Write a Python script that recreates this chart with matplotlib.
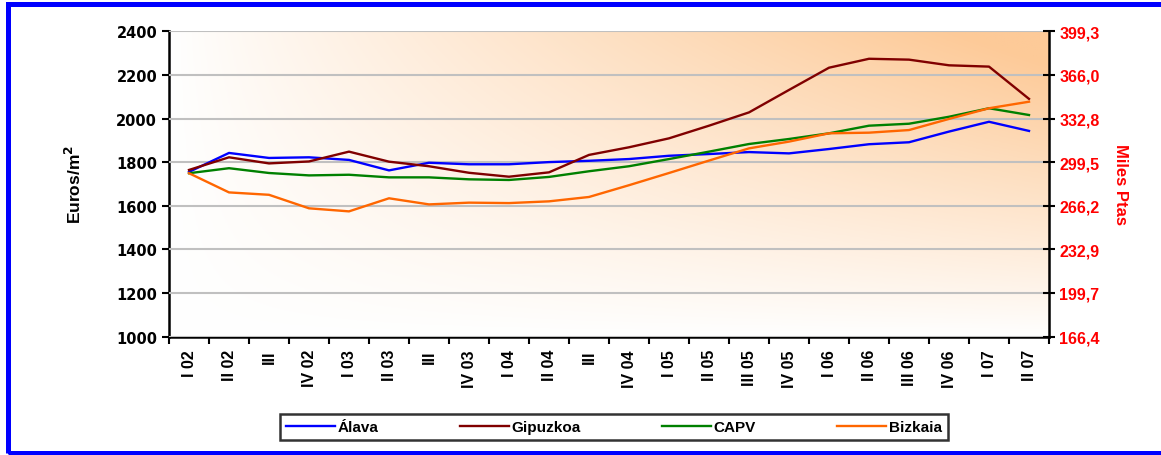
import numpy as np
import matplotlib.pyplot as plt
from matplotlib.ticker import FuncFormatter, FixedLocator
from matplotlib.patches import Rectangle

plt.rcParams['font.family'] = ['Liberation Sans', 'DejaVu Sans']
plt.rcParams['font.weight'] = 'bold'

quarters = ['I 02', 'II 02', 'III', 'IV 02', 'I 03', 'II 03', 'III', 'IV 03',
            'I 04', 'II 04', 'III', 'IV 04', 'I 05', 'II 05', 'III 05', 'IV 05',
            'I 06', 'II 06', 'III 06', 'IV 06', 'I 07', 'II 07']

alava = [1755, 1842, 1819, 1822, 1810, 1762, 1797, 1790, 1790, 1800, 1806,
         1814, 1829, 1837, 1846, 1840, 1860, 1882, 1891, 1940, 1985, 1943]
gipuzkoa = [1764, 1822, 1794, 1803, 1848, 1802, 1781, 1751, 1733, 1753, 1833,
            1868, 1909, 1967, 2028, 2131, 2233, 2274, 2270, 2244, 2238, 2090]
capv = [1749, 1772, 1750, 1739, 1742, 1730, 1730, 1721, 1718, 1732, 1758,
        1781, 1814, 1848, 1883, 1906, 1932, 1967, 1976, 2008, 2047, 2016]
bizkaia = [1749, 1661, 1650, 1588, 1574, 1634, 1606, 1614, 1612, 1620, 1640,
           1694, 1750, 1807, 1863, 1894, 1932, 1935, 1947, 1998, 2047, 2077]

series = [('Álava', alava, '#0000FF'),
          ('Gipuzkoa', gipuzkoa, '#800000'),
          ('CAPV', capv, '#008000'),
          ('Bizkaia', bizkaia, '#FF6600')]

PTAS = 166.386 / 1000  # miles de pesetas por euro

W, H = 1161, 456
fig = plt.figure(figsize=(W / 100, H / 100), dpi=100)
ax = fig.add_axes([169 / W, 1 - 337.5 / H, 880 / W, 305.2 / H])

# background gradient: white bottom-left to orange top-right
gx = np.linspace(0, 1, 300)
gy = np.linspace(0, 1, 150)
X, Y = np.meshgrid(gx, gy)
f = np.clip((X ** 0.9) * (Y ** 0.9) * 1.1, 0, 1)[..., None]
white = np.array([1.0, 1.0, 1.0])
orange = np.array([253, 202, 152]) / 255
img = white * (1 - f) + orange * f
ax.imshow(img, extent=[0, len(quarters), 1000, 2400], origin='lower',
          aspect='auto', zorder=0)

x = np.arange(len(quarters)) + 0.5
for name, vals, col in series:
    ax.plot(x, vals, color=col, lw=1.7, label=name, zorder=3)

ax.set_xlim(0, len(quarters))
ax.set_ylim(1000, 2400)
ax.set_yticks(np.arange(1000, 2401, 200))
ax.grid(axis='y', color='#C0C0C0', lw=1.5, zorder=1)
ax.set_axisbelow(False)

ax.xaxis.set_major_locator(FixedLocator(np.arange(0, len(quarters) + 1)))
ax.xaxis.set_minor_locator(FixedLocator(x))
ax.set_xticklabels([])
ax.set_xticklabels(quarters, minor=True, rotation=90, fontsize=11.5,
                   fontweight='bold', va='top', ha='center')
ax.tick_params(axis='x', which='major', length=5, width=1.5, direction='out')
ax.tick_params(axis='x', which='minor', length=0, pad=9)
ax.tick_params(axis='y', length=5, width=1.5)
for lbl in ax.get_yticklabels():
    lbl.set_fontweight('bold')
    lbl.set_family('DejaVu Sans')
    lbl.set_fontsize(10.5)

for s in ['top', 'right']:
    ax.spines[s].set_visible(False)
for s in ['left', 'bottom']:
    ax.spines[s].set_linewidth(1.8)

ax.set_ylabel('Euros/m$^\\mathbf{2}$', fontsize=12.5, fontweight='bold', labelpad=23)

ax2 = ax.twinx()
ax2.set_ylim(1000 * PTAS, 2400 * PTAS)
ax2.set_yticks(np.arange(1000, 2401, 200) * PTAS)
ax2.yaxis.set_major_formatter(FuncFormatter(lambda v, p: f'{v:.1f}'.replace('.', ',')))
ax2.tick_params(axis='y', colors='black', labelcolor='#FF0000', length=8,
                width=1.5, direction='inout', labelsize=11.5)
for lbl in ax2.get_yticklabels():
    lbl.set_fontweight('bold')
for s in ['top', 'left', 'bottom']:
    ax2.spines[s].set_visible(False)
ax2.spines['right'].set_linewidth(1.8)
ax2.set_ylabel('Miles Ptas', color='#FF0000', fontsize=12, fontweight='bold',
               rotation=-90, labelpad=20)

leg = fig.legend(*ax.get_legend_handles_labels(), loc='center', ncol=4,
                 bbox_to_anchor=(280 / W, 1 - 443 / H, 668 / W, 30 / H),
                 mode='expand', frameon=True, fancybox=False, edgecolor='black',
                 handlelength=3.2, handletextpad=0.2, borderaxespad=0,
                 prop={'weight': 'bold', 'size': 11})
leg.get_frame().set_linewidth(1.8)

# outer blue frame (cut off on the right)
fig.patches.append(Rectangle((7.5 / W, 2.5 / H), 1.2, 1 - 7 / H,
                             transform=fig.transFigure, fill=False,
                             edgecolor='#0000FF', lw=3.6, zorder=10))

fig.savefig('out.png', dpi=100)
